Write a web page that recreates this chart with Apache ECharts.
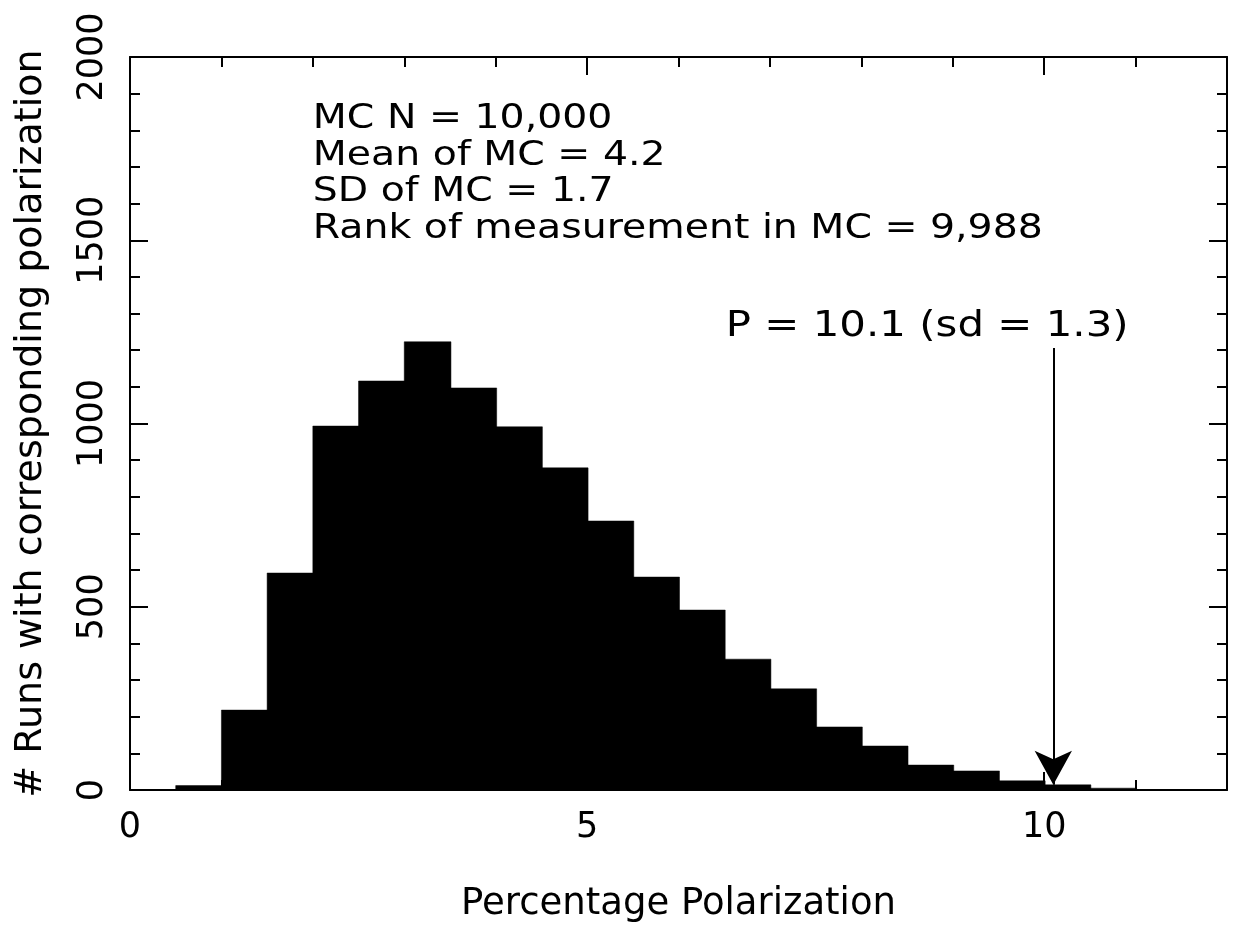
<!DOCTYPE html>
<html><head><meta charset="utf-8">
<script src="https://cdn.jsdelivr.net/npm/echarts@6/dist/echarts.min.js"></script>
<style>html,body{margin:0;padding:0;background:#fff}#c{width:1233px;height:926px}</style>
</head><body><div id="c"></div>
<script>
// Histogram bins (left edges, width 0.5) and counts
const binStart = [0.5,1.0,1.5,2.0,2.5,3.0,3.5,4.0,4.5,5.0,5.5,6.0,6.5,7.0,7.5,8.0,8.5,9.0,9.5,10.0,10.5];
const counts   = [12, 218, 592, 993, 1116, 1223, 1097, 991, 879, 734, 581, 491, 357, 276, 172, 120, 68, 52, 25, 14, 5];
const binWidth = 0.5;
const measurement = 10.1;
const arrowTop = 1206;
const statsLines = ['MC N = 10,000','Mean of MC = 4.2','SD of MC = 1.7','Rank of measurement in MC = 9,988'];
const pLabel = 'P = 10.1 (sd = 1.3)';
const xTicks = [0,5,10];
const yTicks = [0,500,1000,1500,2000];

const FONT = '"DejaVu Sans",sans-serif';
const chart = echarts.init(document.getElementById('c'));
function axisBase(extra){
  return Object.assign({
    axisLine:{show:true,onZero:false,lineStyle:{color:'#000',width:2}},
    axisTick:{show:true,inside:true,length:18,lineStyle:{color:'#000',width:2}},
    minorTick:{show:true,splitNumber:5,length:10,lineStyle:{color:'#000',width:2}},
    splitLine:{show:false}
  },extra);
}
const option = {
  backgroundColor:'#fff',
  animation:false,
  grid:{left:130,right:6,top:57,bottom:136,containLabel:false,outerBoundsMode:'none'},
  xAxis:[axisBase({
    type:'value',min:0,max:12,interval:5,
    axisLabel:{color:'#000',fontSize:35,fontFamily:FONT,margin:20,showMaxLabel:false,
      formatter:v=>xTicks.includes(v)?String(v):''},
    name:'Percentage Polarization',nameLocation:'middle',nameGap:96,
    nameTextStyle:{color:'#000',fontSize:37,fontFamily:FONT}
  }),axisBase({
    type:'value',position:'top',min:0,max:12,interval:5,axisLabel:{show:false}
  })],
  yAxis:[axisBase({
    type:'value',min:0,max:2000,interval:500,
    axisLabel:{color:'#000',fontSize:35,fontFamily:FONT,rotate:90,margin:20,
      formatter:v=>yTicks.includes(v)?String(v):''},
    name:'# Runs with corresponding polarization',nameLocation:'middle',nameGap:80,
    nameTextStyle:{color:'#000',fontSize:38,fontFamily:FONT}
  }),axisBase({
    type:'value',position:'right',min:0,max:2000,interval:500,axisLabel:{show:false}
  })],
  series:[{
    type:'custom',
    xAxisIndex:0,yAxisIndex:0,
    data: binStart.map((b,i)=>[b,b+binWidth,counts[i]]),
    renderItem:function(params,api){
      const p0 = api.coord([api.value(0),api.value(2)]);
      const p1 = api.coord([api.value(1),0]);
      return {type:'rect',shape:{x:p0[0],y:p0[1],width:p1[0]-p0[0]+1,height:p1[1]-p0[1]},style:{fill:'#000',stroke:'#000',lineWidth:0.5}};
    },
    markLine:{
      silent:true,
      symbol:['none','arrow'],
      symbolSize:[28,34],
      label:{show:false},
      lineStyle:{color:'#000',width:2,type:'solid'},
      data:[[{coord:[measurement,arrowTop]},{coord:[measurement,counts[19]]}]]
    }
  }]
};
chart.setOption(option);
// stretch annotation text horizontally to the reference's wide lettering
const ctx = document.createElement('canvas').getContext('2d');
function textW(str,size){ctx.font=size+'px '+FONT;return ctx.measureText(str).width;}
const statsSize = 34, pSize = 36;
const statsScale = 730 / textW(statsLines[3],statsSize);
const pScale = 403 / textW(pLabel,pSize);
const tl = chart.convertToPixel({gridIndex:0},[2.0,1879]);
const pl = chart.convertToPixel({gridIndex:0},[8.72,1264]);
chart.setOption({graphic:[
  {type:'text',x:tl[0],y:tl[1],scaleX:statsScale,
   style:{text:statsLines.join('\n'),font:statsSize+'px '+FONT,fill:'#000',lineHeight:36.5}},
  {type:'text',x:pl[0],y:pl[1],scaleX:pScale,
   style:{text:pLabel,font:pSize+'px '+FONT,fill:'#000',align:'center',verticalAlign:'middle'}}
]});
</script></body></html>
